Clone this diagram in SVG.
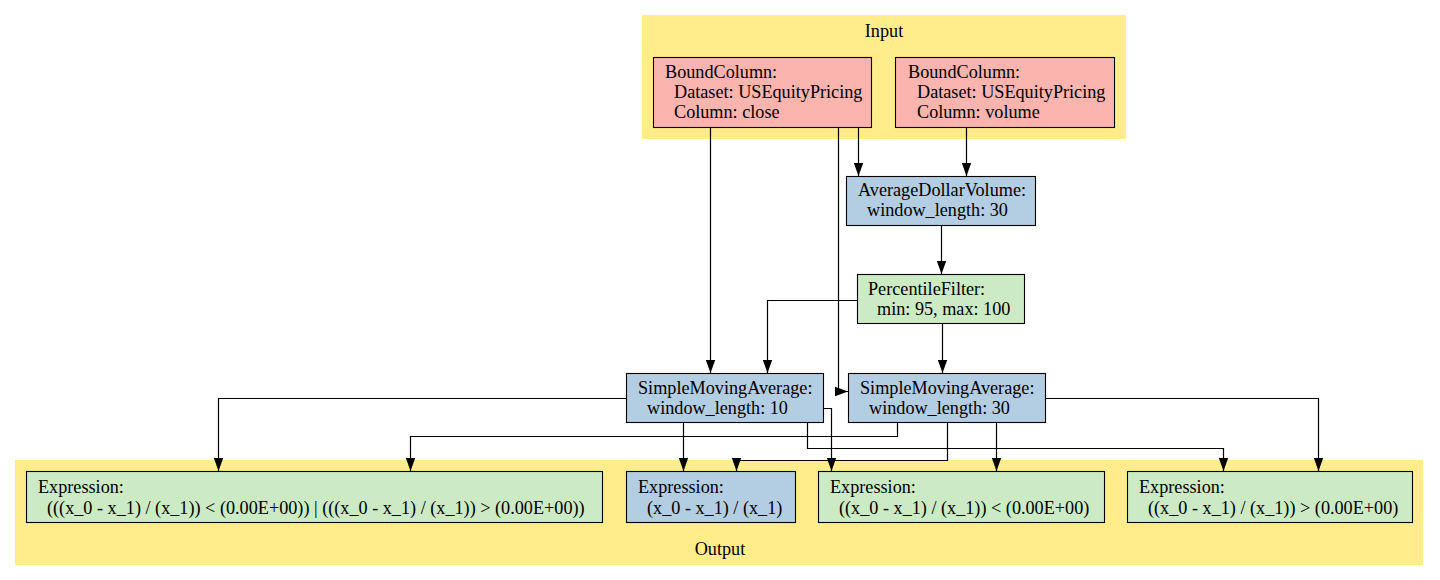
<svg xmlns="http://www.w3.org/2000/svg" width="1440" height="580" viewBox="0 0 1440 580">
<defs>
<style>
text{font-family:"Liberation Serif","Times New Roman",serif;font-size:18.2px;fill:#000}
.cl{fill:#ffec8b;stroke:none}
.n rect{stroke:#000;stroke-width:1.1}
.red rect{fill:#fbb4ae}
.blue rect{fill:#b3cde3}
.green rect{fill:#ccebc5}
.e path{fill:none;stroke:#000;stroke-width:1.2;marker-end:url(#arrow)}
</style>
<marker id="arrow" viewBox="0 0 13 10" refX="13" refY="5" markerWidth="13" markerHeight="10" markerUnits="userSpaceOnUse" orient="auto"><path d="M0,0.3 L13,5 L0,9.7 z" fill="#000"/></marker>
</defs>
<rect width="1440" height="580" fill="#fff"/>
<g id="cluster_input">
<rect class="cl" x="642" y="15" width="484" height="124"/>
<text x="884" y="37" text-anchor="middle">Input</text>
</g>
<g id="cluster_output">
<rect class="cl" x="15" y="460" width="1408" height="105"/>
<text x="720" y="555" text-anchor="middle">Output</text>
</g>
<g id="connectors" class="e">
<path d="M710.5,128 V373"/>
<path d="M838.5,128 V391.5 H848"/>
<path d="M858.5,128 V176"/>
<path d="M966.5,128 V176"/>
<path d="M941.5,226 V274"/>
<path d="M857,300.5 H767.5 V373"/>
<path d="M942.5,324 V373"/>
<path d="M626,398.5 H218.5 V471"/>
<path d="M683.5,423 V471"/>
<path d="M823,408.5 H831.5 V471"/>
<path d="M807.5,423 V448.5 H1223.5 V471"/>
<path d="M897.5,423 V436.5 H410.5 V471"/>
<path d="M947.5,423 V460.5 H736.5 V471"/>
<path d="M996.5,423 V471"/>
<path d="M1045,398.5 H1318.5 V471"/>
</g>
<g id="bc_close" class="n red">
<rect x="653.5" y="57.5" width="218" height="70"/>
<text x="665" y="78">BoundColumn:</text>
<text x="674" y="98">Dataset: USEquityPricing</text>
<text x="674" y="118">Column: close</text>
</g>
<g id="bc_volume" class="n red">
<rect x="895.5" y="57.5" width="219" height="70"/>
<text x="908" y="78">BoundColumn:</text>
<text x="917" y="98">Dataset: USEquityPricing</text>
<text x="917" y="118">Column: volume</text>
</g>
<g id="adv" class="n blue">
<rect x="846.5" y="176.5" width="189" height="49"/>
<text x="858" y="196">AverageDollarVolume:</text>
<text x="867" y="216">window_length: 30</text>
</g>
<g id="pf" class="n green">
<rect x="857.5" y="274.5" width="167" height="49"/>
<text x="868" y="295">PercentileFilter:</text>
<text x="877" y="315">min: 95, max: 100</text>
</g>
<g id="sma10" class="n blue">
<rect x="626.5" y="373.5" width="197" height="49"/>
<text x="638" y="394">SimpleMovingAverage:</text>
<text x="647" y="414">window_length: 10</text>
</g>
<g id="sma30" class="n blue">
<rect x="848.5" y="373.5" width="197" height="49"/>
<text x="860" y="394">SimpleMovingAverage:</text>
<text x="869" y="414">window_length: 30</text>
</g>
<g id="expr1" class="n green">
<rect x="26.5" y="471.5" width="576" height="51"/>
<text x="38" y="493">Expression:</text>
<text x="47" y="514">(((x_0 - x_1) / (x_1)) &lt; (0.00E+00)) | (((x_0 - x_1) / (x_1)) &gt; (0.00E+00))</text>
</g>
<g id="expr2" class="n blue">
<rect x="626.5" y="471.5" width="169" height="51"/>
<text x="638" y="493">Expression:</text>
<text x="647" y="514">(x_0 - x_1) / (x_1)</text>
</g>
<g id="expr3" class="n green">
<rect x="818.5" y="471.5" width="286" height="51"/>
<text x="830" y="493">Expression:</text>
<text x="839" y="514">((x_0 - x_1) / (x_1)) &lt; (0.00E+00)</text>
</g>
<g id="expr4" class="n green">
<rect x="1127.5" y="471.5" width="285" height="51"/>
<text x="1139" y="493">Expression:</text>
<text x="1148" y="514">((x_0 - x_1) / (x_1)) &gt; (0.00E+00)</text>
</g>
</svg>
